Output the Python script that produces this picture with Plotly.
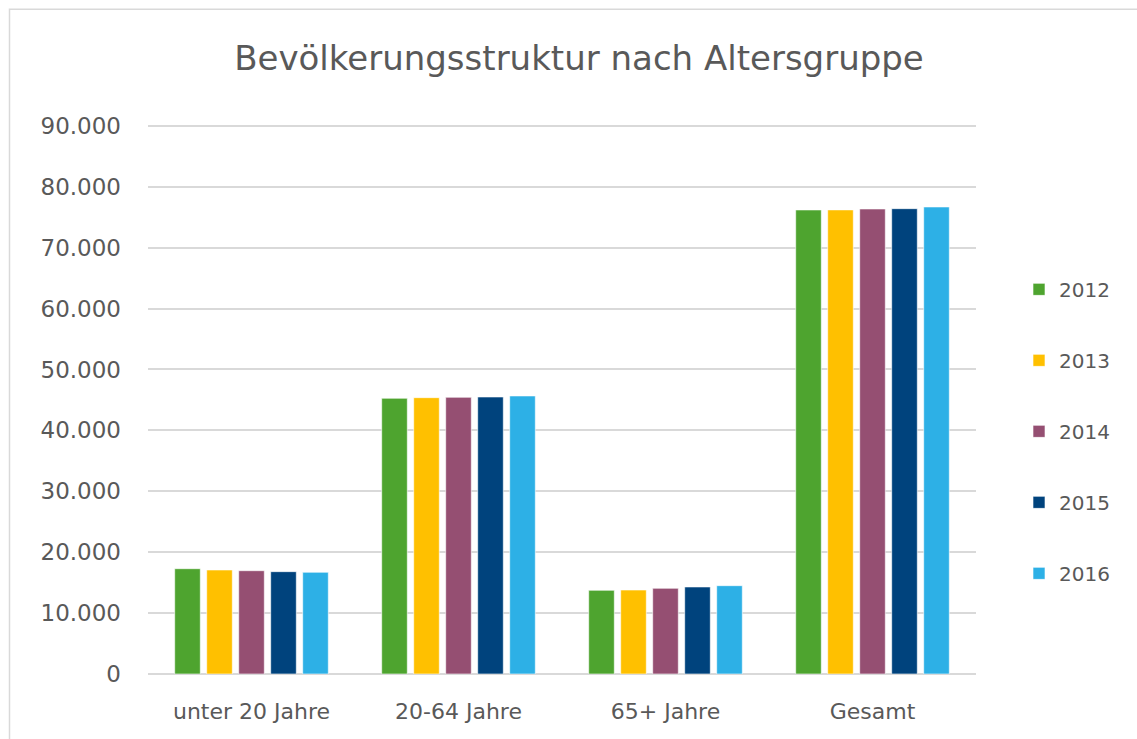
import plotly.graph_objects as go

categories = ["unter 20 Jahre", "20-64 Jahre", "65+ Jahre", "Gesamt"]
years = ["2012", "2013", "2014", "2015", "2016"]
v2012 = [17290, 45270, 13740, 76190]
v2013 = [17080, 45370, 13790, 76200]
v2014 = [16960, 45430, 14070, 76350]
v2015 = [16800, 45480, 14290, 76400]
v2016 = [16700, 45650, 14500, 76680]
series = [v2012, v2013, v2014, v2015, v2016]
colors = ["#4EA42F", "#FFC000", "#954F72", "#00437D", "#2DB0E6"]
ytickvals = [0, 10000, 20000, 30000, 40000, 50000, 60000, 70000, 80000, 90000]

FONT = "DejaVu Sans"
GRAY = "#595959"

fig = go.Figure()
for y, vals, c in zip(years, series, colors):
    fig.add_trace(go.Bar(
        x=categories, y=vals, name=y, legendgroup=y,
        marker=dict(color=c, line=dict(color="rgba(255,255,255,0.6)", width=1)),
    ))

W, H = 1137, 739
YMAX = 90300
L, R, B = 148, 161, 65
ph = 548 * YMAX / 90000
T = H - B - ph
pw = W - L - R

def px2x(px):
    return (px - L) / pw

def py2y(py):
    return (H - B - py) / ph

fig.update_layout(
    width=W, height=H,
    margin=dict(l=L, r=R, t=T, b=B),
    paper_bgcolor="white", plot_bgcolor="white",
    separators=",.",
    barmode="group", bargap=0.227, bargroupgap=0.2,
    font=dict(family=FONT, color=GRAY, size=18),
    title=dict(text="Bevölkerungsstruktur nach Altersgruppe",
               x=579 / W, xanchor="center", xref="container",
               y=1 - 58 / H, yanchor="middle",
               font=dict(size=34, color=GRAY, family=FONT)),
    yaxis=dict(range=[0, YMAX], tickvals=ytickvals, tickformat=",d",
               showgrid=True, gridcolor="#D9D9D9", gridwidth=1.5,
               zeroline=True, zerolinecolor="#D9D9D9", zerolinewidth=1.5,
               showline=False, ticks="", ticklabelstandoff=26,
               tickfont=dict(size=23, color=GRAY)),
    xaxis=dict(showgrid=False, showline=False, ticks="",
               ticklabelstandoff=22, tickfont=dict(size=22, color=GRAY)),
    legend=dict(x=px2x(1019), xanchor="left", y=py2y(270), yanchor="top",
                tracegroupgap=42, font=dict(size=20, color=GRAY),
                bgcolor="rgba(0,0,0,0)"),
    shapes=[dict(type="rect", xref="paper", yref="paper",
                 x0=px2x(9.5), x1=px2x(W + 5), y0=py2y(H + 5), y1=py2y(9.5),
                 line=dict(color="#D9D9D9", width=1.5), fillcolor="rgba(0,0,0,0)",
                 layer="below")],
)

fig.write_html("out.html", config={"displayModeBar": False},
               post_script="document.body.style.margin='0';")
